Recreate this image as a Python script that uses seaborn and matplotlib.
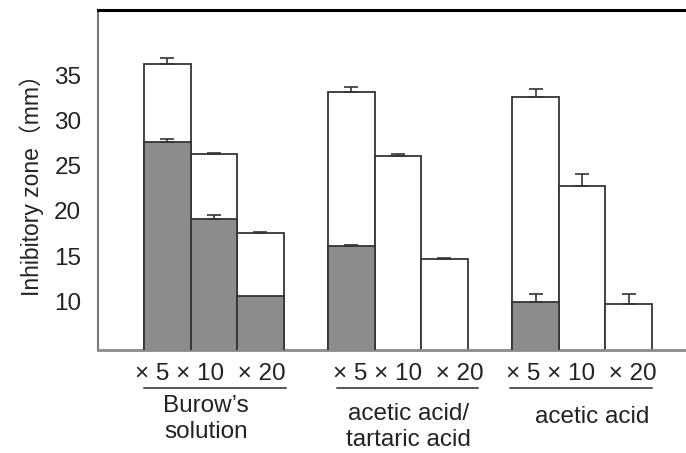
import numpy as np
import pandas as pd
import matplotlib
matplotlib.use("Agg")
import matplotlib.pyplot as plt
import matplotlib.transforms as mtransforms
import seaborn as sns

# ---- data ----
groups = ["Burow’s\nsolution", "acetic acid/\ntartaric acid", "acetic acid"]
dilutions = ["×5", "×10", "×20"]
# white (outer) bars: total inhibitory zone
total_vals = [[36.2, 26.3, 17.5],
              [33.1, 26.1, 14.65],
              [32.6, 22.8, 9.7]]
total_err = [[0.7, 0.15, 0.2],
             [0.6, 0.15, 0.15],
             [0.9, 1.3, 1.1]]
# grey (inner) bars
inner_vals = [[27.6, 19.1, 10.6],
              [16.1, np.nan, np.nan],
              [9.9, np.nan, np.nan]]
inner_err = [[0.3, 0.4, 0.0],
             [0.1, np.nan, np.nan],
             [0.9, np.nan, np.nan]]
yticks = [10, 15, 20, 25, 30, 35]
ylabel = "Inhibitory zone（mm）"

# ---- layout ----
group_step = 3.96
first_center = 1.49
rows = []
for g in range(len(groups)):
    for i in range(len(dilutions)):
        rows.append(dict(pos=first_center + g * group_step + i,
                         group=g, dil=i,
                         total=total_vals[g][i], terr=total_err[g][i],
                         inner=inner_vals[g][i], ierr=inner_err[g][i]))
df = pd.DataFrame(rows)

sns.set_style("white")
plt.rcParams['font.family'] = ['Liberation Sans', 'Noto Sans CJK JP', 'DejaVu Sans']

W, H = 686, 453
fig = plt.figure(figsize=(W / 100, H / 100), dpi=100)
ax = fig.add_axes([98 / W, 1 - 350 / H, (W - 98) / W, 340 / H])

edge = '#353535'
sns.barplot(data=df, x='pos', y='total', native_scale=True, width=1.0,
            color='white', edgecolor=edge, linewidth=1.3, errorbar=None,
            ax=ax, zorder=2)
ax.errorbar(df['pos'], df['total'], yerr=[np.zeros(len(df)), df['terr']],
            fmt='none', ecolor=edge, elinewidth=1.2, capsize=5, capthick=1.2,
            zorder=3)
dfi = df.dropna(subset=['inner'])
sns.barplot(data=dfi, x='pos', y='inner', native_scale=True, width=1.0,
            color='#8c8c8c', edgecolor=edge, linewidth=1.3, errorbar=None,
            ax=ax, zorder=4, saturation=1)
dfe = dfi[dfi['ierr'] > 0]
ax.errorbar(dfe['pos'], dfe['inner'], yerr=[np.zeros(len(dfe)), dfe['ierr']],
            fmt='none', ecolor=edge, elinewidth=1.2, capsize=5, capthick=1.2,
            zorder=5)

ax.set_xlim(0, (W - 98) / 46.5)
ax.set_ylim(4.61, 42.22)
ax.set_yticks(yticks)
ax.set_yticklabels([str(t) for t in yticks], fontsize=17.5, color='#222222')
ax.tick_params(axis='y', direction='in', length=7, width=1.4, color='#666666', pad=12)
ax.set_xticks([])
ax.set_xlabel('')
ax.set_ylabel(ylabel, fontsize=16.5, color='#222222', labelpad=7)

ax.spines['right'].set_visible(False)
ax.spines['top'].set_color('black')
ax.spines['top'].set_linewidth(2.2)
ax.spines['left'].set_color('#777777')
ax.spines['left'].set_linewidth(1.5)
ax.spines['bottom'].set_color('#8a8a8a')
ax.spines['bottom'].set_linewidth(2.0)

trans = mtransforms.blended_transform_factory(ax.transData, ax.transAxes)
dil_text_off = [-0.07, 0.23, -0.02]
line_span = [(-1.51, 1.56), (-1.30, 1.73), (-1.55, 1.50)]
name_off = [-0.16, 0.22, 0.21]
name_top = [-0.133, -0.155, -0.165]
for g, name in enumerate(groups):
    c = first_center + g * group_step + 1
    ax.text(c + dil_text_off[g], -0.088, "× 5 × 10  × 20", transform=trans,
            ha='center', va='baseline', fontsize=17.5, color='#222222', clip_on=False)
    ax.plot([c + line_span[g][0], c + line_span[g][1]], [-0.113, -0.113],
            transform=trans, color='#555555', lw=1.4, clip_on=False)
    ax.text(c + name_off[g], name_top[g], name, transform=trans, ha='center',
            va='top', fontsize=17.5, color='#222222', linespacing=1.25, clip_on=False)

fig.savefig('out.png', dpi=100)
